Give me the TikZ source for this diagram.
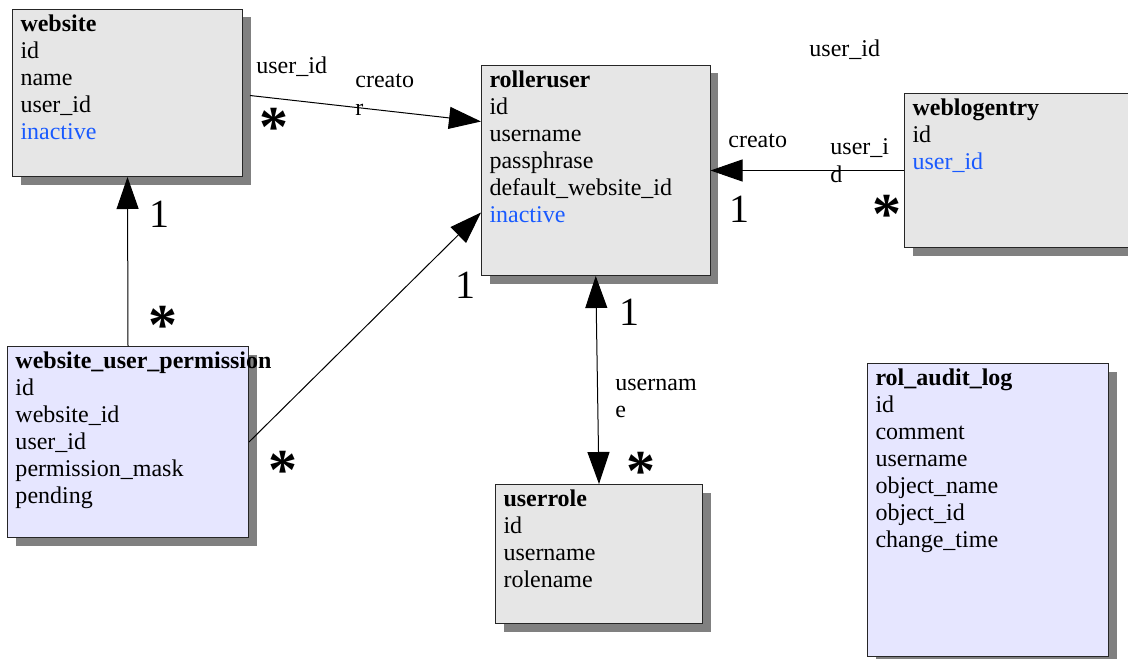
\documentclass[tikz,border=0pt]{standalone}
\usepackage{fontspec}
\setmainfont{Liberation Serif}
\usetikzlibrary{arrows.meta,shadows}

\definecolor{tablegray}{RGB}{230,230,230}
\definecolor{tablelilac}{RGB}{230,230,255}
\definecolor{shadowgray}{RGB}{128,128,128}
\definecolor{fieldblue}{RGB}{25,90,255}

\newcommand{\tname}[1]{\mbox{\textbf{#1}}}
\newcommand{\tbody}[3]{\parbox[t][#2][t]{#1}{\raggedright #3}}
\newcommand{\blue}[1]{\textcolor{fieldblue}{#1}}
\newcommand{\twolines}[2]{\parbox[t]{5em}{#1\\#2}}

\begin{document}
\begin{tikzpicture}[x=0.5pt,y=-0.5pt,
    font=\fontsize{12}{13.5}\selectfont,
    entity/.style={draw=black!85,line width=0.5pt,fill=tablegray,anchor=north west,
      inner xsep=4pt,inner ysep=2.5pt,
      drop shadow={shadow xshift=4pt,shadow yshift=-4pt,opacity=1,fill=shadowgray}},
    lilac/.style={entity,fill=tablelilac},
    lbl/.style={anchor=base west,inner sep=0pt},
    one/.style={anchor=base,inner sep=0pt,font=\fontsize{20}{20}\selectfont},
    many/.style={anchor=base,inner sep=0pt,font=\fontsize{29}{29}\selectfont\bfseries},
    fk/.style={-{Triangle[length=16pt,width=11pt]},line width=0.5pt},
    both/.style={{Triangle[length=16pt,width=11pt]}-{Triangle[length=16pt,width=11pt]},line width=0.5pt}]
    \useasboundingbox (0,0) rectangle (1128,658);

    \node[entity] (website) at (12,9) {\tbody{107pt}{78.5pt}{\tname{website}\\id\\name\\user\_id\\\blue{inactive}}};
    \node[entity] (rolleruser) at (481,65) {\tbody{106.25pt}{100pt}{\tname{rolleruser}\\id\\username\\passphrase\\default\_website\_id\\\blue{inactive}}};
    \node[entity] (weblogentry) at (904,93) {\tbody{109pt}{72pt}{\tname{weblogentry}\\id\\\blue{user\_id}}};
    \node[lilac] (wup) at (7,346) {\tbody{112.5pt}{90.5pt}{\tname{website\_user\_permission}\\id\\website\_id\\user\_id\\permission\_mask\\pending}};
    \node[entity] (userrole) at (495,484) {\tbody{95.5pt}{64.5pt}{\tname{userrole}\\id\\username\\rolename}};
    \node[lilac] (auditlog) at (867,363) {\tbody{112.5pt}{141.5pt}{\tname{rol\_audit\_log}\\id\\comment\\username\\object\_name\\object\_id\\change\_time}};

    \path[fk] ([xshift=3.5pt,yshift=-1.25pt]website.east) edge ([yshift=24.5pt]rolleruser.west);
    \path[fk] (weblogentry.west) edge (rolleruser.east);
    \path[fk] (wup.north) edge (website.south);
    \path[fk] (wup.east) edge ([yshift=-21pt]rolleruser.west);
    \path[both] (rolleruser.south) edge (userrole.north);

    \node[lbl] (wsuser) at (256,74) {user\_id};
    \node[lbl] (wscreator) at (355,88) {\twolines{creato}{r}};
    \node[many] (wsmany) at (274,147) {*};
    \node[one] (wsone) at (159,227) {1};
    \node[many] (wupmany) at (163,344) {*};
    \node[many] (wupmany2) at (283,489) {*};
    \node[one] (ruone) at (465,298) {1};
    \node[one] (rrone) at (629,325) {1};
    \node[lbl] (rrname) at (615,390) {\twolines{usernam}{e}};
    \node[many] (rrmany) at (641,490) {*};
    \node[lbl] (wecreator) at (728,148) {creato};
    \node[lbl] (weuser) at (830,155) {\twolines{user\_i}{d}};
    \node[one] (weone) at (739,222) {1};
    \node[many] (wemany) at (887,233) {*};
    \node[lbl] (topuser) at (809,57) {user\_id};
\end{tikzpicture}
\end{document}
